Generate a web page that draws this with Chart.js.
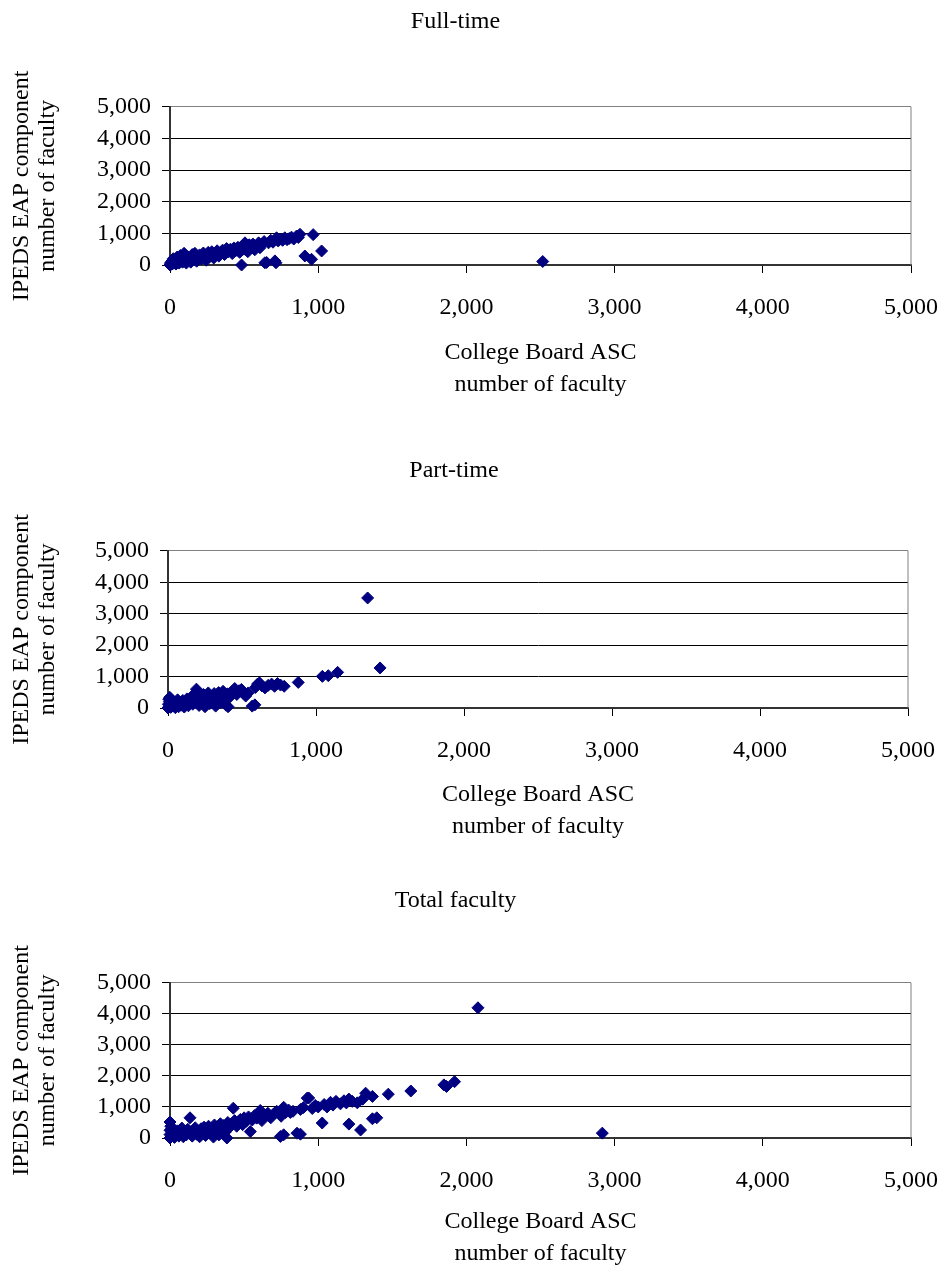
<!DOCTYPE html>
<html>
<head>
<meta charset="utf-8">
<script src="https://cdn.jsdelivr.net/npm/chart.js@4.4.0/dist/chart.umd.min.js"></script>
<style>
  body { margin: 0; background: #fff; width: 945px; height: 1273px; position: relative; overflow: hidden; }
  canvas { position: absolute; left: 0; }
</style>
</head>
<body>
<canvas id="fullTime" width="945" height="430" style="top:0"></canvas>
<canvas id="partTime" width="945" height="430" style="top:430px"></canvas>
<canvas id="totalFac" width="945" height="413" style="top:860px"></canvas>
<script>
// Full-time: College Board ASC (x) vs IPEDS EAP (y)
const ftX = [0,3,8,12,18,22,28,35,40,48,
  55,62,70,78,85,95,100,110,120,130,
  140,150,160,168,180,190,200,212,225,235,
  245,258,270,282,295,305,318,330,342,355,
  368,382,395,408,420,432,445,458,470,483,
  490,500,506,515,525,535,548,560,572,585,
  598,607,620,635,640,652,665,680,695,708,
  715,719,730,745,760,775,790,805,820,835,
  854,866,877,910,955,966,1023,2515];
const ftY = [0,60,20,120,40,200,90,150,30,250,
  120,60,300,180,90,370,140,60,260,200,
  90,330,170,370,120,260,320,190,380,240,
  150,400,300,420,220,360,450,280,400,470,
  330,520,420,500,360,540,460,560,400,0,
  620,500,700,580,420,640,560,660,480,620,
  700,545,660,740,70,80,700,780,720,130,
  70,860,760,820,780,860,800,840,880,820,
  915,870,970,285,180,960,443,110];

// Part-time
const ptX = [0,3,5,8,10,12,18,22,28,35,
  42,50,58,65,72,80,90,100,110,118,
  128,138,148,158,168,178,192,200,210,220,
  230,240,250,262,272,282,292,302,312,322,
  332,342,352,362,372,382,392,402,406,420,
  432,451,465,480,496,510,525,542,569,587,
  590,605,618,635,655,677,700,720,740,760,
  785,880,1043,1083,1146,1349,1433];
const ptY = [0,120,280,50,200,340,20,130,250,60,
  180,10,110,260,40,190,90,240,30,150,
  290,70,200,350,120,450,600,270,80,390,
  180,430,40,300,480,140,380,220,460,60,
  320,490,170,400,530,270,90,450,40,360,
  520,620,430,550,590,470,380,480,60,100,
  650,760,800,700,640,720,760,690,780,730,
  690,815,1006,1029,1134,3500,1274];

// Total faculty
const totX = [0,0,0,0,5,10,15,20,30,40,
  50,60,70,80,90,100,110,120,135,140,
  150,160,170,180,190,200,210,220,230,240,
  250,260,270,280,293,300,310,320,330,340,
  350,360,370,384,390,400,410,427,436,450,
  460,475,490,500,515,530,542,555,570,585,
  600,609,620,640,660,680,700,720,745,750,
  767,767,780,800,812,830,857,880,880,900,
  926,936,960,980,1000,1027,1040,1060,1083,1100,
  1120,1150,1174,1190,1207,1207,1230,1264,1286,1300,
  1320,1366,1366,1395,1473,1625,1848,1866,1920,2078,
  2917];
const totY = [0,110,250,515,380,50,180,300,20,120,
  230,60,160,320,40,210,100,280,650,150,
  60,240,330,120,200,40,300,180,350,80,
  250,380,160,300,30,420,220,350,100,460,
  280,400,180,0,500,330,450,960,560,380,
  520,600,430,650,540,680,207,580,720,640,
  760,887,560,720,800,650,780,860,50,700,
  990,103,820,900,823,860,155,124,920,980,
  1285,1290,950,1050,1000,483,1080,1000,1150,1060,
  1180,1100,1200,1130,448,1254,1180,1133,257,1250,
  1443,1340,620,650,1412,1514,1711,1660,1814,4195,
  157];

const axisMin = 0;
const axisMax = 5000;
const axisStep = 1000;
const yTitle = ['IPEDS EAP component', 'number of faculty'];
const xTitle = ['College Board ASC', 'number of faculty'];

Chart.defaults.font.family = '"Liberation Serif", "Times New Roman", serif';
Chart.defaults.color = '#000';

// gray frame on the right side of the plot area
const plotFrame = {
  id: 'plotFrame',
  beforeDatasetsDraw(chart) {
    const { ctx, chartArea: a } = chart;
    ctx.save();
    ctx.strokeStyle = '#808080';
    ctx.lineWidth = 1;
    ctx.beginPath();
    ctx.moveTo(a.right, a.top);
    ctx.lineTo(a.right, a.bottom);
    ctx.stroke();
    ctx.restore();
  }
};

function fmt(v) {
  return Number(v).toLocaleString('en-US');
}

function makeChart(id, title, xs, ys, L) {
  const canvas = document.getElementById(id);
  const points = xs.map((x, i) => ({ x: x, y: ys[i] }));
  return new Chart(canvas.getContext('2d'), {
    type: 'scatter',
    data: {
      datasets: [{
        data: points,
        pointStyle: 'rectRot',
        pointRadius: 6,
        borderWidth: 1,
        backgroundColor: '#000080',
        borderColor: '#000080',
        clip: false
      }]
    },
    options: {
      responsive: false,
      animation: false,
      devicePixelRatio: 1,
      layout: { padding: { left: 0, right: L.right, top: 0, bottom: 0 } },
      plugins: {
        legend: { display: false },
        tooltip: { enabled: false },
        title: {
          display: true,
          text: title,
          color: '#000',
          font: { size: 24, weight: 'normal' },
          padding: { top: L.titleTop, bottom: L.titleBottom }
        }
      },
      scales: {
        x: {
          type: 'linear',
          min: axisMin,
          max: axisMax,
          afterFit(scale) {
            scale.height = L.xHeight;
            // last tick label fits in the right margin, don't let it shrink the plot
            scale.paddingLeft = 0;
            scale.paddingRight = 0;
          },
          ticks: {
            stepSize: axisStep,
            autoSkip: false,
            padding: 20,
            maxRotation: 0,
            font: { size: 24 },
            callback: fmt
          },
          grid: { drawOnChartArea: false, tickLength: 8, color: '#000', lineWidth: 1 },
          border: { color: '#333', width: 2 },
          title: {
            display: true,
            text: xTitle,
            font: { size: 24, lineHeight: 1.333 },
            padding: { top: 0, bottom: L.xTitleBottom }
          }
        },
        y: {
          type: 'linear',
          min: axisMin,
          max: axisMax,
          afterFit(scale) { scale.width = L.left; },
          ticks: {
            stepSize: axisStep,
            autoSkip: false,
            padding: 11,
            font: { size: 24 },
            callback: fmt
          },
          grid: {
            tickLength: 8,
            lineWidth: 1,
            tickColor: '#000',
            color: (c) => (c.tick && c.tick.value === axisMax ? '#808080' : '#000')
          },
          border: { color: '#333', width: 2 },
          title: {
            display: true,
            text: yTitle,
            font: { size: 24, lineHeight: 1.083 },
            padding: { top: 9, bottom: 0 }
          }
        }
      }
    },
    plugins: [plotFrame]
  });
}

makeChart('fullTime', 'Full-time', ftX, ftY,
  { left: 170, right: 34, titleTop: 7, titleBottom: 71, xHeight: 165, xTitleBottom: 29 });
makeChart('partTime', 'Part-time', ptX, ptY,
  { left: 168, right: 37, titleTop: 26, titleBottom: 66, xHeight: 152, xTitleBottom: 17 });
makeChart('totalFac', 'Total faculty', totX, totY,
  { left: 170, right: 34, titleTop: 26, titleBottom: 68, xHeight: 135, xTitleBottom: 3 });
</script>
</body>
</html>
